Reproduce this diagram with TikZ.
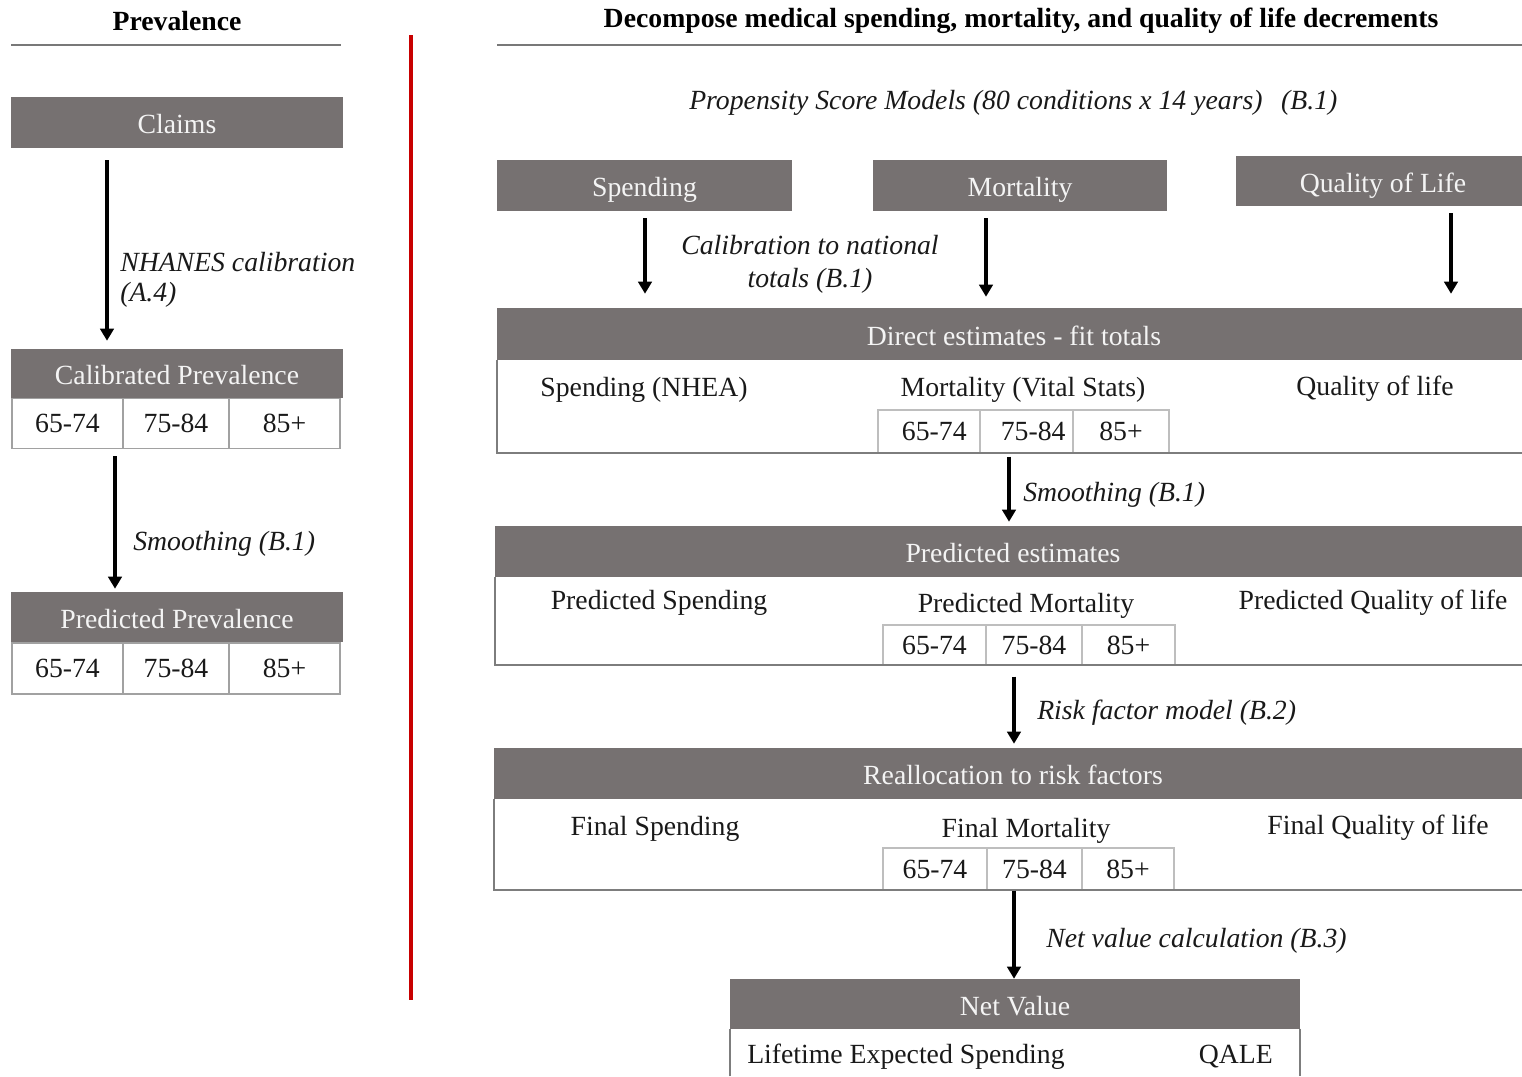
\documentclass[tikz,border=0pt]{standalone}
\usepackage{fontspec}
\setmainfont{Liberation Serif}
\usetikzlibrary{arrows.meta,calc}
\definecolor{hdrgray}{RGB}{118,113,113}
\definecolor{hdrtext}{RGB}{244,244,244}
\definecolor{cellgray}{RGB}{190,190,190}
\definecolor{boxgray}{RGB}{125,125,125}
\definecolor{rulegray}{RGB}{120,120,120}
\definecolor{redline}{RGB}{200,0,0}
\begin{document}
\begin{tikzpicture}[x=0.75pt,y=-0.75pt,
  every node/.style={font=\fontsize{20.8}{24.75}\selectfont, inner sep=0pt, text=black!90},
  sz/.style 2 args={minimum width=#1*0.75pt, minimum height=#2*0.75pt},
  hdr/.style={fill=hdrgray, text=hdrtext, text height=16.5pt, text depth=0pt},
  cellbox/.style={draw=cellgray, line width=1.1pt},
  lcell/.style={draw=cellgray!85!black, line width=1.4pt},
  txt/.style={yshift=-1.9pt},
  lbl/.style={txt, font=\fontsize{20.8}{24.75}\selectfont\itshape},
  ttl/.style={font=\fontsize{20.8}{24.75}\selectfont\bfseries, text=black},
  arr/.style={-{Triangle[length=9pt,width=10pt]}, line width=2.3pt, black},
  bline/.style={draw=boxgray, line width=1.8pt},
  rulel/.style={draw=rulegray, line width=0.9pt}]
\useasboundingbox (0,0) rectangle (1522,1076);

% titles and separators
\node[ttl] (tprev) at (177,21) {Prevalence};
\node[ttl] (tdec) at (1021,21) {Decompose medical spending, mortality, and quality of life decrements};
\draw[rulel] (11,45) -- (341,45);
\draw[rulel] (497,45) -- (1522,45);
\draw[draw=redline, line width=3.2pt] (411,35) -- (411,1000);

% ---------- left column ----------
\node[hdr,sz={332}{51}] (claims) at (177,122.5) {Claims};
\node[hdr,sz={332}{49}] (calh) at (177,373.5) {Calibrated Prevalence};
\node[lcell,sz={111}{50}] (calc1) at (67.5,423.5) {65-74};
\node[lcell,sz={106}{50}] (calc2) at (176,423.5) {75-84};
\node[lcell,sz={111}{50}] (calc3) at (284.5,423.5) {85+};
\draw[arr] ($(claims.south)+(-70,12)$) -- ($(calh.north)+(-70,-8)$);
\node[lbl,anchor=west] (l1) at (120,259) {NHANES calibration};
\node[lbl,anchor=west] (l1b) at (120,292) {(A.4)};

\node[hdr,sz={332}{50}] (predh) at (177,617) {Predicted Prevalence};
\node[lcell,sz={111}{51}] (prc1) at (67.5,668.5) {65-74};
\node[lcell,sz={106}{51}] (prc2) at (176,668.5) {75-84};
\node[lcell,sz={111}{51}] (prc3) at (284.5,668.5) {85+};
\draw[arr] ($(calc2.south)+(-61,7)$) -- ($(predh.north)+(-62,-3)$);
\node[lbl,anchor=west] (l2) at (133,541) {Smoothing (B.1)};

% ---------- right column ----------
\node[lbl,anchor=west] (ps) at (689,100) {Propensity Score Models (80 conditions x 14 years)\hspace{14pt}(B.1)};

\node[hdr,sz={295}{51}] (sp) at (644.5,185.5) {Spending};
\node[hdr,sz={294}{51}] (mo) at (1020,185.5) {Mortality};
\node[hdr,sz={294}{50}] (ql) at (1383,181) {Quality of Life};

% Direct estimates
\node[hdr,sz={1034}{52}] (dh) at (1014,334) {Direct estimates - fit totals};
\node[sz={1034}{93}] (db) at (1014,406.5) {};
\node[txt] (dsp) at (644,387) {Spending (NHEA)};
\node[txt] (dmo) at (1023,387) {Mortality (Vital Stats)};
\node[txt] (dql) at (1375,386) {Quality of life};
\node[cellbox,sz={102}{43}] (dc1) at (929,431.5) {\hspace{8pt}65-74};
\node[cellbox,sz={93}{43}] (dc2) at (1026.5,431.5) {\hspace{10pt}75-84};
\node[cellbox,sz={96}{43}] (dc3) at (1121,431.5) {85+};
\draw[bline] (db.north west) -- (db.south west) -- (db.south east);

\draw[arr] ($(sp.south)+(0.5,7)$) -- ($(dh.north)+(-369,-14)$);
\draw[arr] ($(mo.south)+(-34,7)$) -- ($(dh.north)+(-28,-11)$);
\draw[arr] ($(ql.south)+(68,7)$) -- ($(dh.north)+(437,-14)$);
\node[lbl,align=center] (lcal) at (810,262) {Calibration to national\\totals (B.1)};

% Predicted estimates
\node[hdr,sz={1036}{51}] (ph) at (1013,551.5) {Predicted estimates};
\node[sz={1036}{88}] (pb) at (1013,621) {};
\node[txt] (psp) at (659,600) {Predicted Spending};
\node[txt] (pmo) at (1026,603) {Predicted Mortality};
\node[txt] (pql) at (1373,600) {Predicted Quality of life};
\node[cellbox,sz={103}{40}] (pc1) at (934.5,645) {65-74};
\node[cellbox,sz={96}{40}] (pc2) at (1034,645) {75-84};
\node[cellbox,sz={93}{40}] (pc3) at (1128.5,645) {85+};
\draw[bline] (pb.north west) -- (pb.south west) -- (pb.south east);

\draw[arr] ($(dc2.south)+(-17.5,3)$) -- ($(ph.north)+(-4,-4)$);
\node[lbl,anchor=west] (l3) at (1023,492) {Smoothing (B.1)};

% Reallocation
\node[hdr,sz={1038}{51}] (rh) at (1013,773.5) {Reallocation to risk factors};
\node[sz={1038}{91}] (rb) at (1013,844.5) {};
\node[txt] (rsp) at (655,826) {Final Spending};
\node[txt] (rmo) at (1026,828) {Final Mortality};
\node[txt] (rql) at (1378,825) {Final Quality of life};
\node[cellbox,sz={104}{42}] (rc1) at (935,869) {65-74};
\node[cellbox,sz={95}{42}] (rc2) at (1034.5,869) {75-84};
\node[cellbox,sz={92}{42}] (rc3) at (1128,869) {85+};
\draw[bline] (rb.north west) -- (rb.south west) -- (rb.south east);

\draw[arr] ($(pc2.south)+(-20,11)$) -- ($(rh.north)+(1,-4)$);
\node[lbl,anchor=west] (l4) at (1037,710) {Risk factor model (B.2)};

% Net value
\node[hdr,sz={570}{50}] (nvh) at (1015,1004) {Net Value};
\node[sz={570}{47}] (nvb) at (1015,1052.5) {};
\draw[bline, line width=1.4pt] (nvb.south west) -- (nvb.north west);
\draw[bline, line width=1.4pt] (nvb.north east) -- (nvb.south east);
\node[txt,anchor=west] (nvl) at (747,1054) {Lifetime Expected Spending};
\node[txt,anchor=east] (nvq) at (1273,1054) {QALE};

\draw[arr] ($(rc2.south)+(-20.5,0)$) -- ($(nvh.north)+(-1,0)$);
\node[lbl,anchor=west] (l5) at (1046,938) {Net value calculation (B.3)};
\end{tikzpicture}
\end{document}
